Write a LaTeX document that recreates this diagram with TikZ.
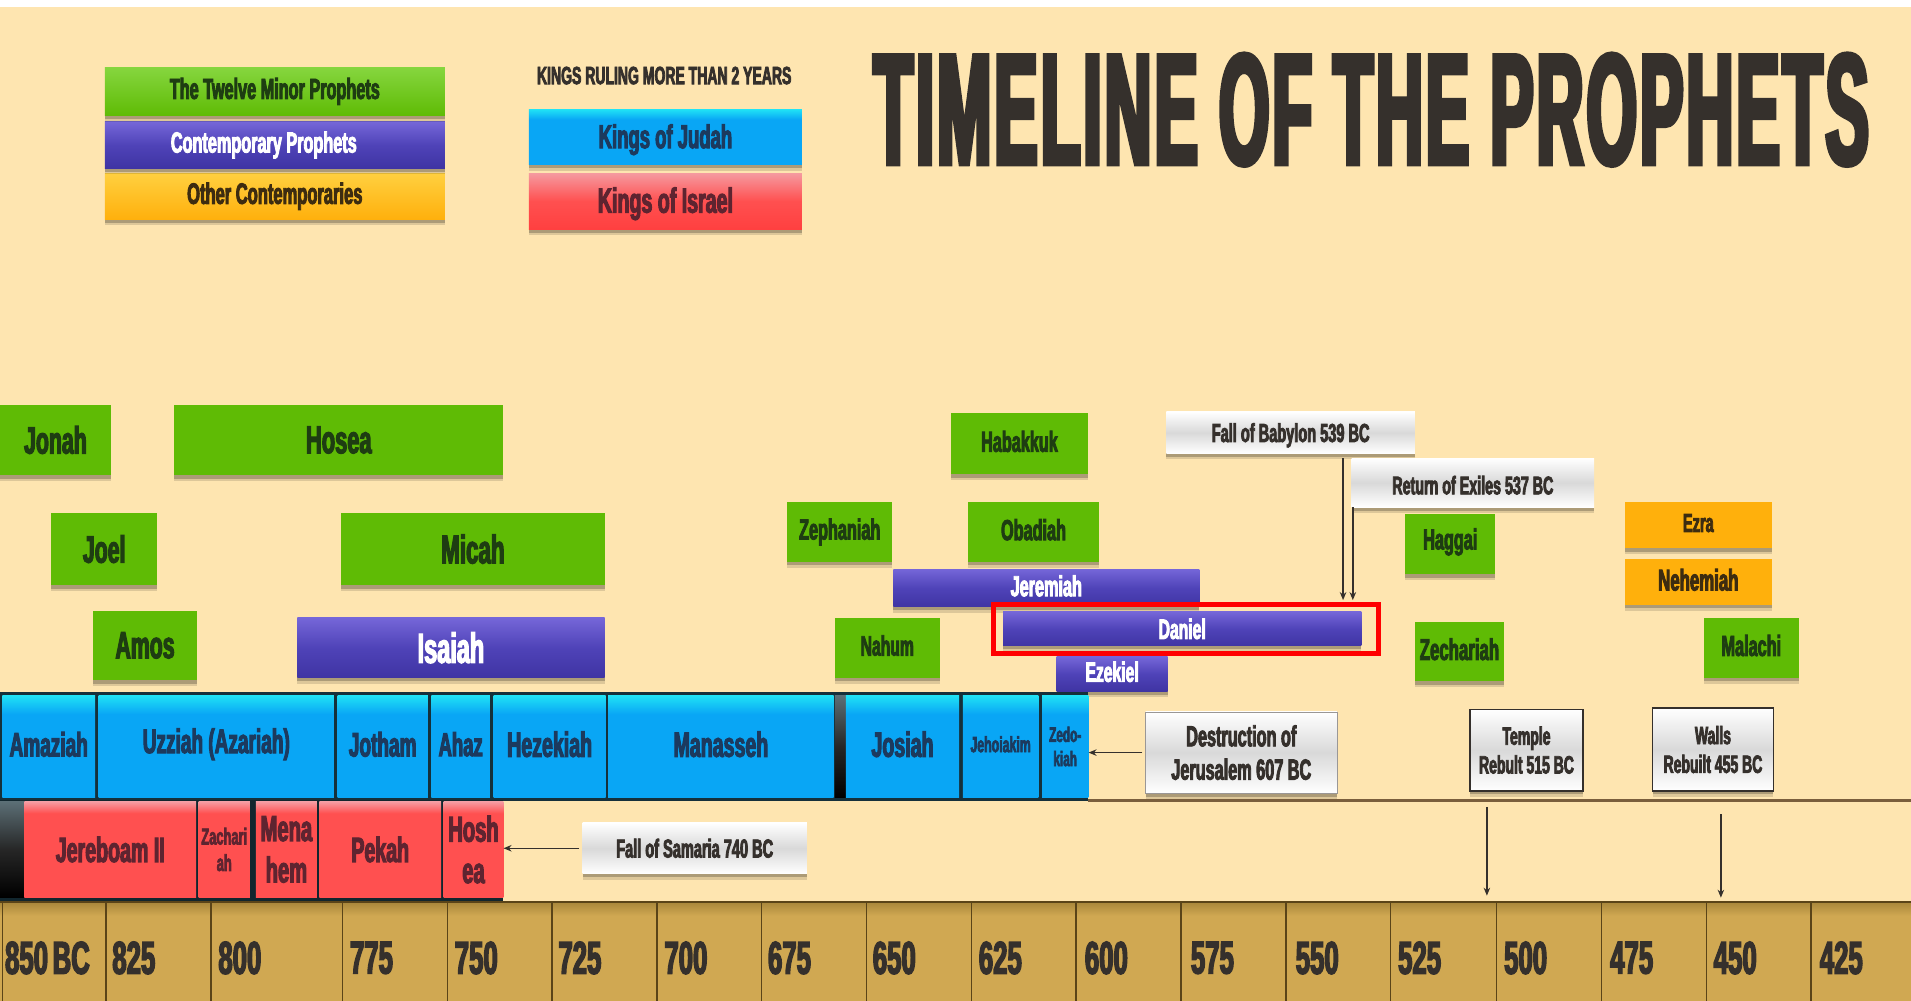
\documentclass[tikz,border=0pt]{standalone}
\usepackage{fontspec}
\usetikzlibrary{shadows,arrows.meta}
\newfontfamily\imp[BoldFeatures={FakeStretch=0.56,FakeBold=3}]{Liberation Sans}
\newfontfamily\impt[BoldFeatures={FakeStretch=0.41,FakeBold=3,LetterSpace=2}]{Liberation Sans}
\definecolor{paper}{HTML}{FEE5B0}
\definecolor{grn}{HTML}{5FBB05}
\definecolor{grnlight}{HTML}{86D63F}
\definecolor{grntxt}{HTML}{1E3D12}
\definecolor{pur}{HTML}{4F43B8}
\definecolor{purtop}{HTML}{7566D8}
\definecolor{purbot}{HTML}{3F34A3}
\definecolor{blu}{HTML}{09A6F5}
\definecolor{blutop}{HTML}{1FE0F5}
\definecolor{blutxt}{HTML}{1C3A5E}
\definecolor{red2}{HTML}{FF5050}
\definecolor{redtop}{HTML}{F59AA0}
\definecolor{redtxt}{HTML}{5E2430}
\definecolor{org}{HTML}{FFB00C}
\definecolor{orgtop}{HTML}{FFD040}
\definecolor{orgtxt}{HTML}{3D2C10}
\definecolor{tan}{HTML}{D0A852}
\definecolor{tantop}{HTML}{A8863A}
\definecolor{tick}{HTML}{5A4418}
\definecolor{ink}{HTML}{35302C}
\definecolor{rowdark}{HTML}{15303A}
\definecolor{rule}{HTML}{7A5E3C}
\pgfdeclareverticalshading{judahsh}{100bp}{color(0bp)=(blu); color(66bp)=(blu); color(75bp)=(blutop); color(100bp)=(blutop)}
\pgfdeclareverticalshading{israelsh}{100bp}{color(0bp)=(red2); color(69bp)=(red2); color(75bp)=(redtop); color(100bp)=(redtop)}
\pgfdeclareverticalshading{tansh}{100bp}{color(0bp)=(tan); color(68bp)=(tan); color(75bp)=(tantop); color(100bp)=(tantop)}
\newcommand\fz[1]{\imp\bfseries\fontsize{#1}{\dimexpr #1pt*115/100\relax}\selectfont}
\newcommand\up[1]{\raisebox{2.2pt}[\height][\depth]{#1}}
\newcommand\dn[1]{\raisebox{-2.6pt}[\height][\depth]{#1}}
\tikzset{
  x=1.21875pt,y=-1.21875pt,
  box/.style={inner sep=0pt,align=center,rectangle},
  shad/.style={drop shadow={shadow xshift=0pt,shadow yshift=-6pt,fill=black,opacity=.13},
               drop shadow={shadow xshift=0pt,shadow yshift=-3.5pt,fill=black,opacity=.22}},
  fs/.style={font=\fz{#1}},
  green/.style={shad,fill=grn,text=grntxt},
  greenleg/.style={shad,top color=grnlight,bottom color=grn,text=grntxt},
  purple/.style={shad,top color=purtop,bottom color=purbot,middle color=pur,text=white},
  judah/.style={shading=judahsh,text=blutxt},
  israel/.style={shading=israelsh,text=redtxt},
  gapk/.style={top color=rowdark!70!white,bottom color=black,middle color=black!85},
  orange/.style={shad,fill=org,text=orgtxt},
  orangeleg/.style={shad,top color=orgtop,bottom color=org,text=orgtxt},
  event/.style={shad,top color=white,bottom color=white,middle color=black!15,text=ink},
  eventb/.style={event,draw=ink,line width=1.6pt},
  arr/.style={-{Stealth[length=8pt,width=6.5pt]},line width=1.5pt,draw=ink},
  year/.style={anchor=west,inner sep=0pt,font=\fz{46},text=ink},
  tickline/.style={draw=tick,line width=1.5pt}
}
\newcommand\bx[7][]{%
  \pgfmathsetmacro\cx{(#3+#5)/2}\pgfmathsetmacro\cy{(#4+#6)/2}%
  \pgfmathsetmacro\ww{(#5-#3)*1.21875}\pgfmathsetmacro\hh{(#6-#4)*1.21875}%
  \node[box,minimum width=\ww pt,minimum height=\hh pt,#1] (#2) at (\cx,\cy) {#7};}
\begin{document}
\begin{tikzpicture}
\useasboundingbox (0,0) rectangle (1568,821);
\fill[white] (0,0) rectangle (1568,821);
\bx[fill=paper]{page}{0}{6}{1568}{821}{}
% legends
\bx[orangeleg,fs=29.5]{legother}{86}{142}{365}{180}{Other Contemporaries}
\bx[purple,fs=29]{legcont}{86}{100}{365}{138}{Contemporary Prophets\hspace*{22pt}}
\bx[greenleg,fs=29]{legminor}{86}{55}{365}{95}{The Twelve Minor Prophets}
\node[inner sep=0pt,font=\fz{25},text=ink] (kings) at (545,62) {KINGS RULING MORE THAN 2 YEARS};
\bx[shad,top color=redtop,bottom color=red!75!white,middle color=red2,text=redtxt,fs=35]{legisr}{434}{142}{658}{188}{\dn{Kings of Israel}}
\bx[shad,shading=judahsh,text=blutxt,fs=33]{legjud}{434}{90}{658}{135}{\dn{Kings of Judah}}
\node[inner sep=0pt,font={\impt\bfseries\fontsize{158}{180}\selectfont},text=ink] (title) at (1125,90) {TIMELINE OF THE PROPHETS};
% prophets
\bx[green,fs=38]{jonah}{0}{332}{91}{390}{Jonah}
\bx[green,fs=39]{hosea}{143}{332}{413}{390}{Hosea}
\bx[green,fs=38]{joel}{42}{421}{129}{480}{Joel}
\bx[green,fs=40]{micah}{280}{421}{496}{480}{Micah}
\bx[green,fs=38]{amos}{76}{501}{162}{558}{Amos}
\bx[purple,fs=42]{isaiah}{244}{507}{496}{556}{Isaiah}
\bx[green,fs=29]{habakkuk}{780}{339}{893}{389}{\up{Habakkuk}}
\bx[green,fs=29]{zephaniah}{646}{412}{732}{461}{Zephaniah}
\bx[green,fs=29]{obadiah}{794}{412}{902}{461}{\up{Obadiah}}
\bx[green,fs=28]{nahum}{685}{507}{771}{556}{\up{Nahum}}
\bx[green,fs=29]{haggai}{1153}{422}{1227}{471}{\up{Haggai}}
\bx[green,fs=30]{zechariah}{1161}{510}{1234}{559}{\up{Zechariah}}
\bx[green,fs=29]{malachi}{1398}{507}{1476}{556}{\up{Malachi}}
\bx[orange,fs=26]{ezra}{1333}{412}{1454}{450}{\up{Ezra}}
\bx[orange,fs=30]{nehemiah}{1333}{459}{1454}{496}{\up{Nehemiah}}
\bx[purple,fs=29]{jeremiah}{733}{467}{984}{498}{\up{Jeremiah}}
\bx[purple,fs=28]{ezekiel}{867}{539}{958}{567}{\up{Ezekiel}}
\bx[purple,fs=28]{daniel}{823}{502}{1117}{530}{Daniel}
% rules
\coordinate (ruleL) at (893,657);
\coordinate (ruleR) at (1568,657);
\draw[draw=rule,line width=3pt] (ruleL) -- (ruleR);
% Judah row
\bx[fill=rowdark]{judahrow}{0}{568}{893}{657}{}
\bx[judah,fs=34]{amaziah}{2}{571}{78}{654}{\up{Amaziah}}
\bx[judah,fs=34]{uzziah}{81}{571}{274}{654}{\up{Uzziah (Azariah)}}
\bx[judah,fs=34]{jotham}{277}{571}{351}{654}{\up{Jotham}}
\bx[judah,fs=33]{ahaz}{354}{571}{402}{654}{\up{Ahaz}}
\bx[judah,fs=35]{hezekiah}{405}{571}{497}{654}{\up{Hezekiah}}
\bx[judah,fs=35]{manasseh}{499}{571}{684}{654}{\up{Manasseh}}
\bx[gapk]{gapj}{685}{571}{694}{654}{}
\bx[judah,fs=35]{josiah}{694}{571}{787}{654}{\up{Josiah}}
\bx[judah,fs=22]{jehoiakim}{790}{571}{852}{654}{\up{Jehoiakim}}
\bx[judah,fs=21]{zedekiah}{855}{571}{893}{654}{Zedo-\\kiah}
% Israel row
\bx[fill=rowdark!80!black]{israelrow}{0}{656}{413}{739}{}
\bx[gapk]{gapi}{0}{658}{20}{736}{}
\bx[israel,fs=35]{jeroboam}{20}{658}{161}{736}{Jereboam II}
\bx[israel,fs=23]{zachariah}{163}{658}{205}{736}{Zachari\\ah}
\bx[israel,fs=36]{menahem}{210}{658}{260}{736}{Mena\\hem}
\bx[israel,fs=35]{pekah}{262}{658}{362}{736}{Pekah}
\bx[israel,fs=36]{hoshea}{364}{658}{413}{736}{Hosh\\ea}
% axis
\bx[shading=tansh]{axis}{0}{740}{1568}{821}{}
\draw[draw=tick,line width=2pt] (axis.north west) -- (axis.north east);
\foreach \tx/\lab/\lx in {2/{\spaceskip=.1em 850 BC}/4,87/825/92,173/800/179,281/775/287,367/750/373,453/725/458,539/700/545,625/675/630,711/650/716,797/625/803,883/600/890,969/575/977,1055/550/1063,1141/525/1147,1228/500/1234,1314/475/1321,1400/450/1406,1486/425/1493}{
  \coordinate (tk) at (\tx,740);
  \draw[tickline] (tk) -- (tk |- axis.south);
  \node[year] (y\tx) at (\lx,786) {\lab};
}
% events
\bx[event,fs=26]{samaria}{478}{675}{662}{717}{Fall of Samaria 740 BC}
\bx[event,draw=ink!50,fs=29]{destruction}{940}{584}{1097}{651}{Destruction of\\Jerusalem 607 BC}
\bx[eventb,fs=25]{temple}{1206}{582}{1299}{649}{Temple\\Rebult 515 BC}
\bx[eventb,fs=25]{walls}{1356}{581}{1455}{649}{Walls\\Rebuilt 455 BC}
\bx[event,fs=26]{babylon}{957}{338}{1161}{372}{\dn{Fall of Babylon 539 BC}}
\bx[event,fs=25.5]{exiles}{1109}{376}{1308}{416}{\dn{Return of Exiles 537 BC}}
% highlight
\bx[draw=red,line width=4.8pt]{mark1}{815}{496}{1131}{536}{}
% arrows
\draw[arr,shorten <=3pt] (samaria.west) -- (samaria.west -| hoshea.east);
\draw[arr,shorten <=3pt] (destruction.west) -- (destruction.west -| zedekiah.east);
\coordinate (ba) at (1102,376);
\coordinate (ex) at (1110,416);
\draw[arr,shorten >=2pt] (ba) -- (ba |- mark1.north);
\draw[arr,shorten >=2pt] (ex) -- (ex |- mark1.north);
\coordinate (ta) at (1220,662);
\coordinate (wa) at (1412,668);
\draw[arr,shorten >=6pt] (ta) -- (ta |- axis.north);
\draw[arr,shorten >=4pt] (wa) -- (wa |- axis.north);
\end{tikzpicture}
\end{document}
